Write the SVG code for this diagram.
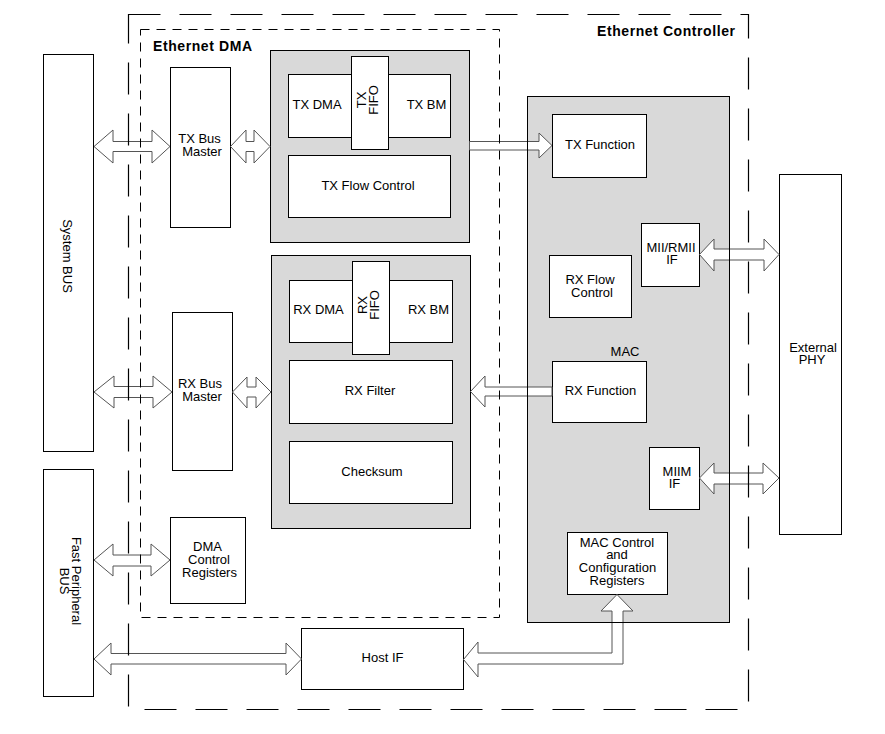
<svg xmlns="http://www.w3.org/2000/svg" width="885" height="734" viewBox="0 0 885 734">
<style>
text{font-family:"Liberation Sans",Arial,sans-serif;font-size:13px;fill:#000;text-anchor:middle}
.b{font-weight:bold;font-size:14px;text-anchor:start}
.box{fill:#fff;stroke:#000;stroke-width:1}
.grey{fill:#d9d9d9;stroke:#000;stroke-width:1}
.edge{fill:none;stroke:#000;stroke-width:1}
.arr{fill:#fff;stroke:#555;stroke-width:1;stroke-linejoin:miter}
.dl{fill:none;stroke:#000;stroke-width:1.2;stroke-dasharray:32 19}
.ds{fill:none;stroke:#000;stroke-width:1;stroke-dasharray:9 7}
</style>
<rect width="885" height="734" fill="#fff"/>

<g id="tx-group"><rect class="grey" x="270.5" y="50.5" width="199" height="192"/></g>
<g id="rx-group"><rect class="grey" x="271.5" y="255.5" width="199" height="273"/></g>
<g id="mac"><rect class="grey" x="527.5" y="96.5" width="202" height="526"/>
<text x="625" y="355.5">MAC</text></g>

<g id="system-bus"><rect class="box" x="43.5" y="54.5" width="50" height="397"/>
<text transform="translate(68,256) rotate(90)" y="4.6">System BUS</text></g>
<g id="fast-peripheral-bus"><rect class="box" x="43.5" y="469.5" width="50" height="227"/>
<text transform="translate(70.5,581) rotate(90)"><tspan x="0" y="-1.4">Fast Peripheral</tspan><tspan x="0" y="10.8">BUS</tspan></text></g>

<g id="tx-bus-master"><rect class="box" x="170.5" y="67.5" width="60" height="160"/>
<text x="199.5" y="143">TX Bus</text><text x="202" y="155.8">Master</text></g>
<g id="rx-bus-master"><rect class="box" x="172.5" y="312.5" width="60" height="158"/>
<text x="200" y="388">RX Bus</text><text x="202" y="400.8">Master</text></g>
<g id="dma-control-registers"><rect class="box" x="170.5" y="517.5" width="75" height="86"/>
<text x="207.5" y="551.2">DMA</text><text x="209" y="564">Control</text><text x="209.5" y="576.8">Registers</text></g>

<g id="tx-dma-bm"><rect class="box" x="288.5" y="74.5" width="162" height="63"/>
<text x="317" y="108.5">TX DMA</text><text x="426.5" y="108.5">TX BM</text></g>
<g id="tx-fifo"><rect class="box" x="351.5" y="56.5" width="37" height="93"/>
<text transform="translate(368,100) rotate(-90)"><tspan x="0" y="-1.6">TX</tspan><tspan x="0" y="10.4">FIFO</tspan></text></g>
<g id="tx-flow-control"><rect class="box" x="288.5" y="155.5" width="162" height="62"/>
<text x="368" y="189.5">TX Flow Control</text></g>

<g id="rx-dma-bm"><rect class="box" x="289.5" y="280.5" width="163" height="62"/>
<text x="318.5" y="313.5">RX DMA</text><text x="428.5" y="313.5">RX BM</text></g>
<g id="rx-fifo"><rect class="box" x="352.5" y="261.5" width="37" height="93"/>
<text transform="translate(369,305) rotate(-90)"><tspan x="0" y="-1.6">RX</tspan><tspan x="0" y="10.4">FIFO</tspan></text></g>
<g id="rx-filter"><rect class="box" x="289.5" y="360.5" width="163" height="63"/>
<text x="370" y="394.5">RX Filter</text></g>
<g id="checksum"><rect class="box" x="289.5" y="441.5" width="163" height="62"/>
<text x="372" y="475.5">Checksum</text></g>

<g id="tx-function"><rect class="box" x="552.5" y="114.5" width="94" height="63"/>
<text x="600" y="148.5">TX Function</text></g>
<g id="mii-rmii-if"><rect class="box" x="641.5" y="223.5" width="58" height="63"/>
<text x="671" y="251.5">MII/RMII</text><text x="672" y="264.3">IF</text></g>
<g id="rx-flow-control"><rect class="box" x="549.5" y="255.5" width="82" height="62"/>
<text x="590" y="284">RX Flow</text><text x="592" y="297">Control</text></g>
<g id="rx-function"><rect class="box" x="552.5" y="361.5" width="94" height="61"/>
<text x="600.5" y="394.5">RX Function</text></g>
<g id="miim-if"><rect class="box" x="649.5" y="447.5" width="50" height="62"/>
<text x="677" y="475.5">MIIM</text><text x="674.5" y="488.3">IF</text></g>
<g id="mac-control-registers"><rect class="box" x="567.5" y="532.5" width="100" height="62"/>
<text x="617" y="546.5">MAC Control</text><text x="617" y="559.3">and</text><text x="617.5" y="572">Configuration</text><text x="617" y="585">Registers</text></g>

<g id="external-phy"><rect class="box" x="779.5" y="174.5" width="62" height="360"/>
<text x="813" y="351.7">External</text><text x="812" y="364.4">PHY</text></g>
<g id="host-if"><rect class="box" x="301.5" y="628.5" width="162" height="61"/>
<text x="382.5" y="661.5">Host IF</text></g>

<g id="connectors">
<polygon class="arr" points="94,146.5 113,130 113,141.5 152,141.5 152,130 170,146.5 152,163 152,151.5 113,151.5 113,163"/>
<polygon class="arr" points="230.5,146.5 246,130 246,141.5 254,141.5 254,130 270,146.5 254,163 254,151.5 246,151.5 246,163"/>
<polygon class="arr" points="469.5,141.5 539,141.5 539,133 552,145.5 539,158 539,150 469.5,150"/>
<polygon class="arr" points="94,392 114,376 114,386.5 153,386.5 153,376 172,392 153,408 153,397.5 114,397.5 114,408"/>
<polygon class="arr" points="232.5,392 247,377 247,387 256,387 256,377 271,392 256,408 256,397 247,397 247,408"/>
<polygon class="arr" points="552,387 485,387 485,376 470.5,391.5 485,407 485,396 552,396"/>
<polygon class="arr" points="94,560 113,544 113,555 151,555 151,544 170,560 151,576 151,566 113,566 113,576"/>
<polygon class="arr" points="94,659 111,643 111,653.5 286,653.5 286,643 301.5,659 286,675 286,664 111,664 111,675"/>
<polygon class="arr" points="463.5,659.5 478,642 478,653 612,653 612,611 601,611 617,594.5 633,611 623,611 623,664 478,664 478,677"/>
<polygon class="arr" points="699.5,254.5 714,239 714,249 764,249 764,239 779,254.5 764,271 764,260 714,260 714,271"/>
<polygon class="arr" points="699.5,478 714,463 714,473 763,473 763,463 779,478 763,494 763,484 714,484 714,494"/>
</g>

<g id="mac-edge"><rect class="edge" x="527.5" y="96.5" width="202" height="526"/></g>

<g id="ethernet-dma">
<rect class="ds" x="140.5" y="29.5" width="359" height="588"/>
<text class="b" x="153" y="51" textLength="99">Ethernet DMA</text>
</g>
<g id="ethernet-controller">
<rect class="dl" x="128.5" y="14.5" width="620" height="695"/>
<text class="b" x="597" y="36" textLength="138">Ethernet Controller</text>
</g>
</svg>
